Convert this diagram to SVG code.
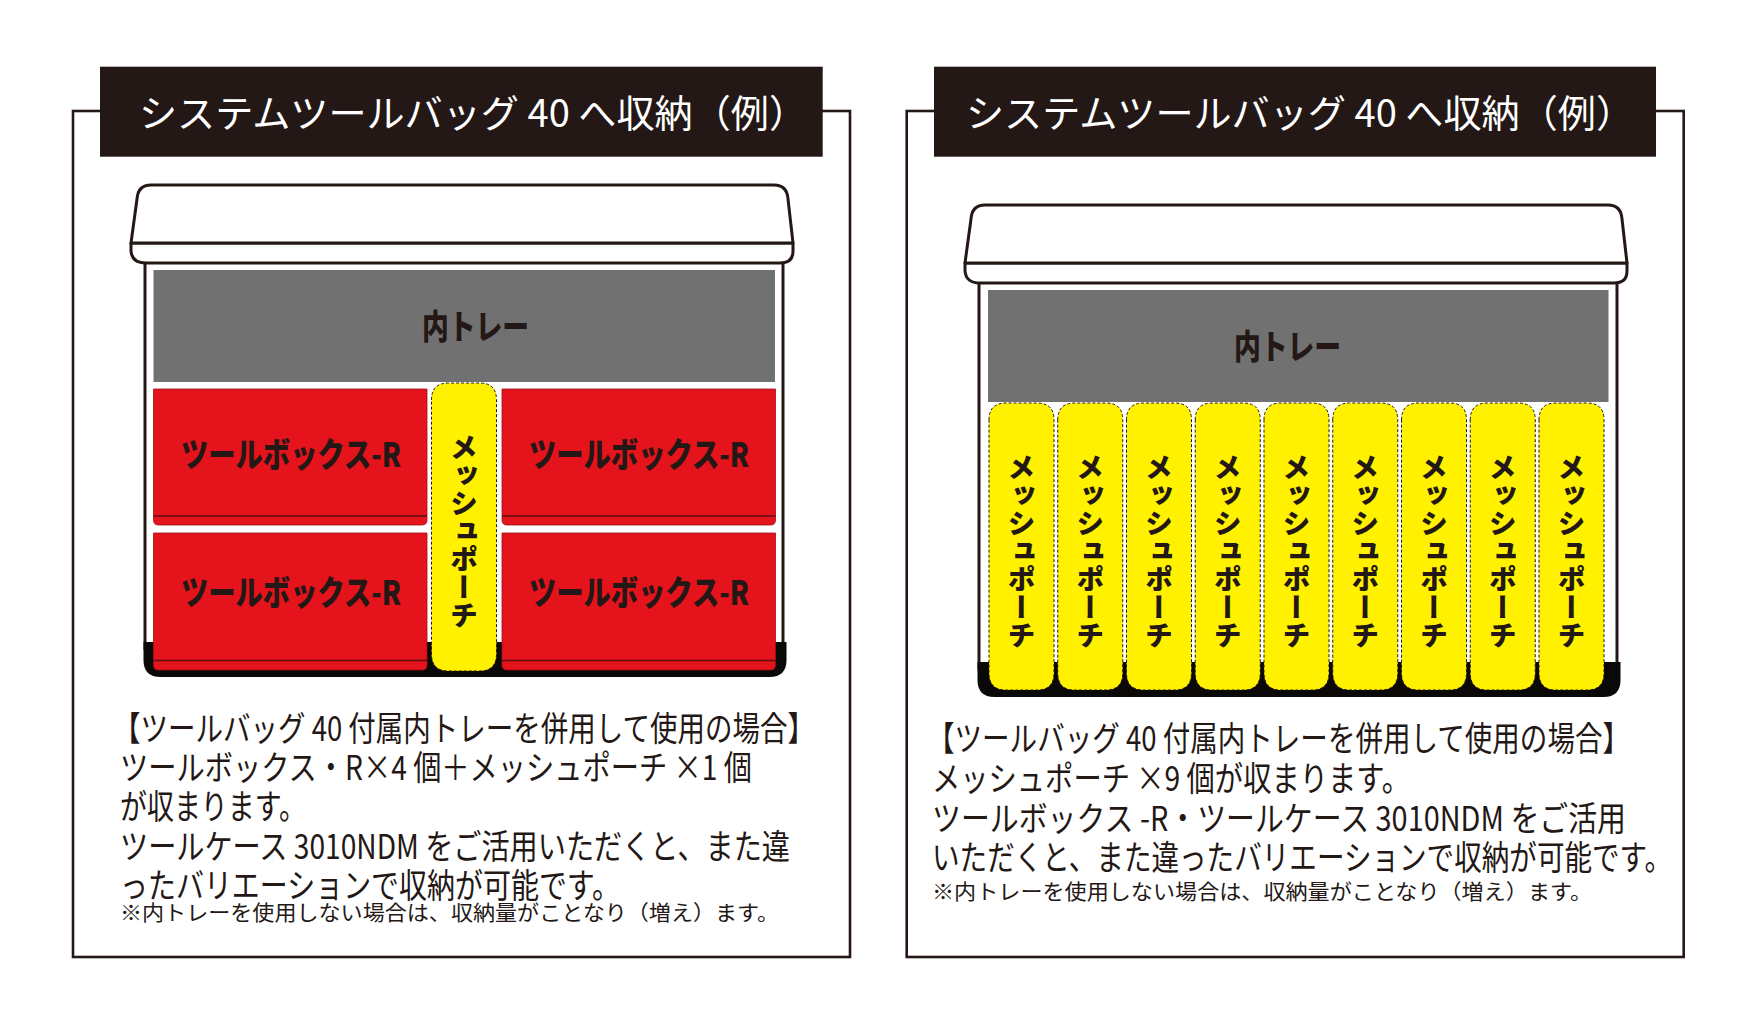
<svg xmlns="http://www.w3.org/2000/svg" xmlns:xlink="http://www.w3.org/1999/xlink" width="1764" height="1020" viewBox="0 0 1764 1020">
<style>
.frame{fill:#fff;stroke:#231815;stroke-width:2.6}
.bar{fill:#231815}
.title{font-family:"Noto Sans CJK JP","Noto Sans",sans-serif;font-size:38px;fill:#fff;font-weight:400}
.ln{fill:none;stroke:#231815;stroke-width:3;stroke-linejoin:round}
.lid{fill:#fff;stroke:#231815;stroke-width:3;stroke-linejoin:round}
.base{fill:#0b0808}
.tray{fill:#727171}
.red{fill:#e5131b;stroke:#9e1016;stroke-width:0.8}
.redln{stroke:#5a1010;stroke-width:1.6}
.pouch{fill:#fff100;stroke:#231815;stroke-width:1;stroke-dasharray:3 2}
.lab{font-family:"Noto Sans CJK JP","Noto Sans",sans-serif;font-weight:900;font-size:34px;fill:#231815}
.vt{font-family:"Noto Sans CJK JP","Noto Sans",sans-serif;font-weight:900;font-size:28px;fill:#231815;writing-mode:vertical-rl;text-anchor:middle}
.body{font-family:"Noto Sans CJK JP","Noto Sans",sans-serif;font-size:34px;fill:#231815;font-weight:400}
.small{font-family:"Noto Sans CJK JP","Noto Sans",sans-serif;font-size:21px;fill:#231815;font-weight:400}
</style>
<defs>
<g id="shell">
<line class="ln" x1="145" y1="262" x2="145" y2="650"/>
<line class="ln" x1="783" y1="262" x2="783" y2="650"/>
<path class="lid" d="M131,243 L131,251 Q132,263 146,263 L780,263 Q793,263 793,251 L793,243 Z"/>
<path class="lid" d="M131,243 L137,199 Q138,185 151,185 L774,185 Q787,185 788,199 L793,243 Z"/>
<path class="base" d="M143.5,642 L786.5,642 L786.5,660 Q786.5,677 769.5,677 L160.5,677 Q143.5,677 143.5,660 Z"/>
</g>
<path id="pouchL" d="M0,17 Q0,0 17,0 L48,0 Q65,0 65,17 L65,271 Q65,288 48,288 L17,288 Q0,288 0,271 Z"/>
<path id="pouchR" d="M0,17 Q0,0 17,0 L48,0 Q65,0 65,17 L65,270 Q65,287 48,287 L17,287 Q0,287 0,270 Z"/>
</defs>

<g id="panel-left">
<rect class="frame" x="73" y="111" width="777" height="846"/>
<rect class="bar" x="100" y="66.7" width="722.7" height="90"/>
<text class="title" x="139" y="127" textLength="668" lengthAdjust="spacingAndGlyphs">システムツールバッグ 40 へ収納（例）</text>
</g>

<g id="bag-left">
<use xlink:href="#shell"/>
<rect class="tray" x="153.5" y="270" width="621.5" height="112"/>
<text class="lab" x="422" y="339" textLength="107" lengthAdjust="spacingAndGlyphs">内トレー</text>
</g>

<g id="toolbox-1">
<path class="red" d="M153.5,389 L427,389 L427,520 Q427,525 422,525 L158.5,525 Q153.5,525 153.5,520 Z"/>
<line class="redln" x1="153.5" y1="516" x2="427" y2="516"/>
<text class="lab" x="181" y="467" textLength="220" lengthAdjust="spacingAndGlyphs">ツールボックス-R</text>
</g>
<g id="toolbox-2">
<path class="red" d="M502,389 L775.5,389 L775.5,520 Q775.5,525 770.5,525 L507,525 Q502,525 502,520 Z"/>
<line class="redln" x1="502" y1="516" x2="775.5" y2="516"/>
<text class="lab" x="529" y="467" textLength="220" lengthAdjust="spacingAndGlyphs">ツールボックス-R</text>
</g>
<g id="toolbox-3">
<path class="red" d="M153.5,533 L427,533 L427,665 Q427,670 422,670 L158.5,670 Q153.5,670 153.5,665 Z"/>
<line class="redln" x1="153.5" y1="660.5" x2="427" y2="660.5"/>
<text class="lab" x="181" y="605" textLength="220" lengthAdjust="spacingAndGlyphs">ツールボックス-R</text>
</g>
<g id="toolbox-4">
<path class="red" d="M502,533 L775.5,533 L775.5,665 Q775.5,670 770.5,670 L507,670 Q502,670 502,665 Z"/>
<line class="redln" x1="502" y1="660.5" x2="775.5" y2="660.5"/>
<text class="lab" x="529" y="605" textLength="220" lengthAdjust="spacingAndGlyphs">ツールボックス-R</text>
</g>
<g id="pouch-left">
<use xlink:href="#pouchL" class="pouch" x="431.5" y="383"/>
<text class="vt" x="464" y="531">メッシュポーチ</text>
</g>

<g id="text-left">
<text class="body" x="113" y="741" textLength="702" lengthAdjust="spacingAndGlyphs">【ツールバッグ 40 付属内トレーを併用して使用の場合】</text>
<text class="body" x="120" y="780" textLength="632" lengthAdjust="spacingAndGlyphs">ツールボックス・R×4 個＋メッシュポーチ ×1 個</text>
<text class="body" x="120" y="819" textLength="186" lengthAdjust="spacingAndGlyphs">が収まります。</text>
<text class="body" x="120" y="859" textLength="670" lengthAdjust="spacingAndGlyphs">ツールケース 3010NDM をご活用いただくと、また違</text>
<text class="body" x="120" y="898" textLength="500" lengthAdjust="spacingAndGlyphs">ったバリエーションで収納が可能です。</text>
<text class="small" x="120" y="919.5" textLength="659" lengthAdjust="spacingAndGlyphs">※内トレーを使用しない場合は、収納量がことなり（増え）ます。</text>
</g>

<g id="panel-right">
<rect class="frame" x="906.7" y="111" width="777" height="846"/>
<rect class="bar" x="934" y="66.7" width="722" height="90"/>
<text class="title" x="966" y="127" textLength="668" lengthAdjust="spacingAndGlyphs">システムツールバッグ 40 へ収納（例）</text>
</g>

<g id="bag-right">
<use xlink:href="#shell" transform="translate(834,20)"/>
<rect class="tray" x="988" y="290" width="620.5" height="112"/>
<text class="lab" x="1234" y="359" textLength="107" lengthAdjust="spacingAndGlyphs">内トレー</text>
</g>

<g id="pouches-right">
<g id="pouch-r1"><use xlink:href="#pouchR" class="pouch" x="989" y="403"/><text class="vt" x="1021.5" y="551">メッシュポーチ</text></g>
<g id="pouch-r2"><use xlink:href="#pouchR" class="pouch" x="1057.75" y="403"/><text class="vt" x="1090.25" y="551">メッシュポーチ</text></g>
<g id="pouch-r3"><use xlink:href="#pouchR" class="pouch" x="1126.5" y="403"/><text class="vt" x="1159" y="551">メッシュポーチ</text></g>
<g id="pouch-r4"><use xlink:href="#pouchR" class="pouch" x="1195.25" y="403"/><text class="vt" x="1227.75" y="551">メッシュポーチ</text></g>
<g id="pouch-r5"><use xlink:href="#pouchR" class="pouch" x="1264" y="403"/><text class="vt" x="1296.5" y="551">メッシュポーチ</text></g>
<g id="pouch-r6"><use xlink:href="#pouchR" class="pouch" x="1332.75" y="403"/><text class="vt" x="1365.25" y="551">メッシュポーチ</text></g>
<g id="pouch-r7"><use xlink:href="#pouchR" class="pouch" x="1401.5" y="403"/><text class="vt" x="1434" y="551">メッシュポーチ</text></g>
<g id="pouch-r8"><use xlink:href="#pouchR" class="pouch" x="1470.25" y="403"/><text class="vt" x="1502.75" y="551">メッシュポーチ</text></g>
<g id="pouch-r9"><use xlink:href="#pouchR" class="pouch" x="1539" y="403"/><text class="vt" x="1571.5" y="551">メッシュポーチ</text></g>
</g>

<g id="text-right">
<text class="body" x="927" y="751" textLength="703" lengthAdjust="spacingAndGlyphs">【ツールバッグ 40 付属内トレーを併用して使用の場合】</text>
<text class="body" x="932" y="791" textLength="478" lengthAdjust="spacingAndGlyphs">メッシュポーチ ×9 個が収まります。</text>
<text class="body" x="932" y="831" textLength="694" lengthAdjust="spacingAndGlyphs">ツールボックス -R・ツールケース 3010NDM をご活用</text>
<text class="body" x="932" y="870" textLength="740" lengthAdjust="spacingAndGlyphs">いただくと、また違ったバリエーションで収納が可能です。</text>
<text class="small" x="932" y="899" font-size="22" textLength="660" lengthAdjust="spacingAndGlyphs">※内トレーを使用しない場合は、収納量がことなり（増え）ます。</text>
</g>
</svg>
